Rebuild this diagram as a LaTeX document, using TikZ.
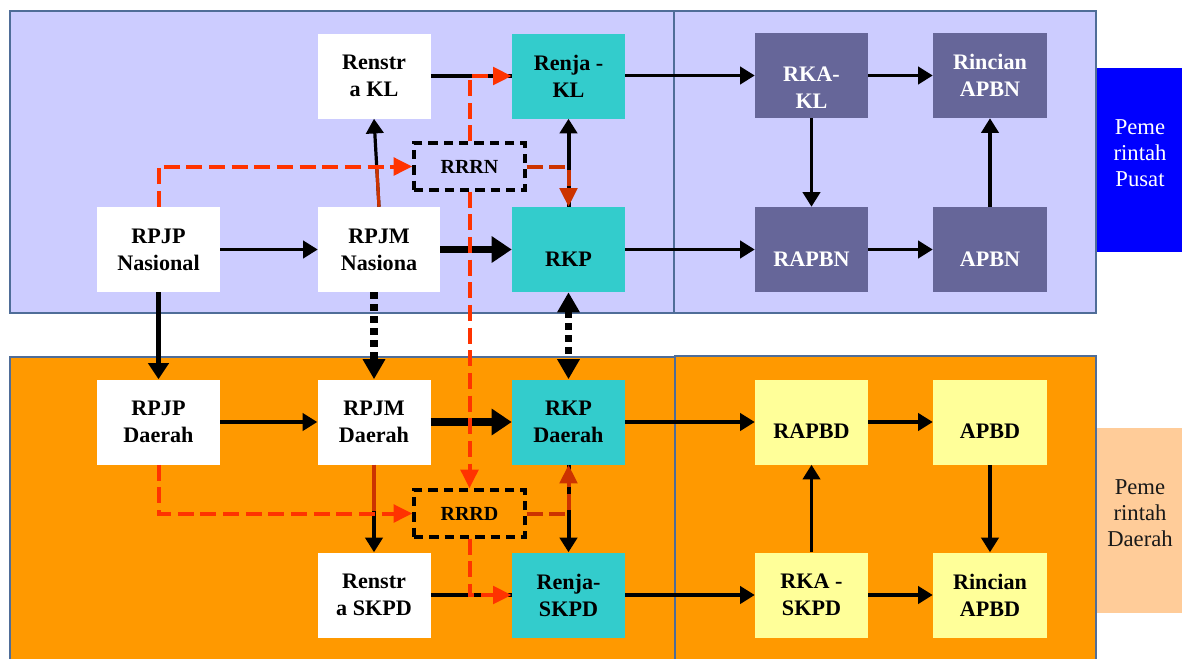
\documentclass[tikz,border=0pt]{standalone}
\usepackage{fontspec}
\setmainfont{Liberation Serif}
\usetikzlibrary{arrows.meta,calc}
\definecolor{lav}{HTML}{CCCCFF}
\definecolor{org}{HTML}{FF9900}
\definecolor{tealb}{HTML}{33CCCC}
\definecolor{purp}{HTML}{666699}
\definecolor{yel}{HTML}{FFFF99}
\definecolor{blueb}{HTML}{0000FF}
\definecolor{peach}{HTML}{FFCC99}
\definecolor{panelc}{HTML}{4F6D98}
\definecolor{redd}{HTML}{FF3300}
\definecolor{dred}{HTML}{CC3300}
\tikzset{
  panel/.style={draw=panelc, line width=1.2pt},
  box/.style={draw=none, minimum width=84.75pt, minimum height=63.75pt, inner sep=0pt, align=center, font=\bfseries\fontsize{16.6}{20.2}\selectfont},
  lbl/.style={align=center, inner sep=0pt, font=\bfseries\fontsize{16.6}{20.2}\selectfont, yshift=-7pt},
  dbox/.style={draw=black, line width=2.4pt, dash pattern=on 7pt off 4.5pt, minimum width=83.25pt, minimum height=35.25pt, inner sep=0pt, font=\bfseries\fontsize{15}{18}\selectfont},
  side/.style={minimum width=63.75pt, inner sep=0pt},
  sidetxt/.style={align=center, inner sep=0pt, font=\fontsize{17}{19.5}\selectfont},
  arr/.style={line width=2.4pt, -{Triangle[length=11pt,width=13pt]}},
  plain/.style={line width=2.4pt},
  vthick/.style={line width=3.6pt, -{Triangle[length=12pt,width=15pt]}},
  tharr/.style={line width=5.5pt, -{Triangle[length=15pt,width=19pt]}},
  dotarr/.style={line width=5.5pt, dash pattern=on 5pt off 4pt, -{Triangle[length=15pt,width=16pt]}},
  dotarrb/.style={line width=5.5pt, dash pattern=on 5pt off 4pt, {Triangle[length=15pt,width=16pt]}-{Triangle[length=15pt,width=16pt]}},
  reddash/.style={draw=redd, line width=3pt, dash pattern=on 12pt off 5pt, -{Triangle[length=14pt,width=13pt]}},
  darkdash/.style={draw=dred, line width=3pt, dash pattern=on 12pt off 5pt, -{Triangle[length=14pt,width=13pt]}},
}
\begin{document}
\begin{tikzpicture}[x=0.75pt,y=-0.75pt]
\useasboundingbox (0,0) rectangle (1182,658);
\clip (0,0) rectangle (1182,658);
% panels
\path[panel, fill=lav] (10,11) rectangle (674,313);
\path[panel, fill=lav] (674,11) rectangle (1096,313);
\path[panel, fill=org] (10,357) rectangle (675,680);
\path[panel, fill=org] (675,356) rectangle (1096,680);
% side labels
\node[side, fill=blueb, minimum height=138pt] (pusat) at (1139.5,160) {};
\node[sidetxt, text=white] (pusat-t) at (1140,153.5) {Peme\\rintah\\Pusat};
\node[side, fill=peach, minimum height=138.75pt] (daerah) at (1139.5,520.5) {};
\node[sidetxt, text=black!90] (daerah-t) at (1140,513.5) {Peme\\rintah\\Daerah};
% top nodes
\node[box, fill=white] (renstrakl) at (374,76) {Renstr\\a KL};
\node[box, fill=white, minimum width=92.25pt] (rpjpn) at (158.5,249.5) {RPJP\\Nasional};
\node[box, fill=white, minimum width=91.5pt] (rpjmn) at (379,249.5) {RPJM\\Nasiona};
\node[box, fill=tealb] (renjakl) at (568.5,76) {Renja -\\KL};
\node[box, fill=tealb, label={[name=rkp-t, lbl]center:RKP}] (rkp) at (568.5,249.5) {};
\node[dbox] (rrrn) at (469.5,166.5) {RRRN};
\node[box, fill=purp, label={[name=rkakl-t, lbl, text=white, yshift=-2pt]center:{RKA-\\KL}}] (rkakl) at (811.5,75.5) {};
\node[box, fill=purp, text=white, minimum width=85.5pt] (rincianapbn) at (990,75.5) {Rincian\\APBN};
\node[box, fill=purp, label={[name=rapbn-t, lbl, text=white]center:RAPBN}] (rapbn) at (811.5,249.5) {};
\node[box, fill=purp, minimum width=85.5pt, label={[name=apbn-t, lbl, text=white]center:APBN}] (apbn) at (990,249.5) {};
% bottom nodes
\node[box, fill=white, minimum width=92.25pt] (rpjpd) at (158.5,422) {RPJP\\Daerah};
\node[box, fill=white] (rpjmd) at (374,422) {RPJM\\Daerah};
\node[box, fill=tealb] (rkpd) at (568.5,422) {RKP\\Daerah};
\node[dbox] (rrrd) at (469.5,513.5) {RRRD};
\node[box, fill=white] (renstraskpd) at (374,595) {Renstr\\a SKPD};
\node[box, fill=tealb] (renjaskpd) at (568.5,595) {Renja-\\SKPD};
\node[box, fill=yel, label={[name=rapbd-t, lbl]center:RAPBD}] (rapbd) at (811.5,422) {};
\node[box, fill=yel, minimum width=85.5pt, label={[name=apbd-t, lbl]center:APBD}] (apbd) at (990,422) {};
\node[box, fill=yel] (rkaskpd) at (811.5,595) {RKA -\\SKPD};
\node[box, fill=yel, minimum width=85.5pt] (rincianapbd) at (990,595) {Rincian\\APBD};
% black connectors top
\draw[arr] (rpjpn.east) -- (rpjmn.west);
\draw[tharr] (rpjmn.east) -- (rkp.west);
\draw[arr] (rkp.east) -- (rapbn.west);
\draw[arr] (rapbn.east) -- (apbn.west);
\draw[arr] (apbn.north) -- (rincianapbn.south);
\draw[arr] (rkakl.south) -- (rapbn.north);
\draw[arr] (rkakl.east) -- (rincianapbn.west);
\draw[arr] (renjakl.east |- rkakl.west) -- (rkakl.west);
\draw[plain] (renstrakl.east) -- (renjakl.west);
\draw[arr] (rpjmn.north) -- (renstrakl.south);
\draw[arr, line width=3pt] (rkp.north) -- (renjakl.south);
% between panels
\draw[vthick] (rpjpn.south) -- (rpjpd.north);
\draw[dotarr] (rpjmd.north |- rpjmn.south) -- (rpjmd.north);
\draw[dotarrb] (rkp.south) -- (rkpd.north);
% black connectors bottom
\draw[arr] (rpjpd.east) -- (rpjmd.west);
\draw[tharr] (rpjmd.east) -- (rkpd.west);
\draw[arr] (rkpd.east) -- (rapbd.west);
\draw[arr] (rapbd.east) -- (apbd.west);
\draw[arr] (apbd.south) -- (rincianapbd.north);
\draw[arr] (rkaskpd.north) -- (rapbd.south);
\draw[arr] (rkaskpd.east) -- (rincianapbd.west);
\draw[arr] (renjaskpd.east) -- (rkaskpd.west);
\draw[plain] (renstraskpd.east) -- (renjaskpd.west);
\draw[arr] (rpjmd.south) -- (renstraskpd.north);
\draw[arr, line width=3pt] (rkpd.south) -- (renjaskpd.north);
% dark red overlays on vertical lines
\draw[dred, line width=2.4pt] (rpjmn.north) -- ($(rpjmn.north)!0.47!(renstrakl.south)$);
\draw[dred, line width=2.4pt] (rpjmd.south) -- ($(rpjmd.south)!0.53!(renstraskpd.north)$);
% red dashed connectors
\draw[reddash] (rpjpn.north) |- (rrrn.west);
\draw[reddash] (rrrn.north) |- (renjakl.west);
\draw[reddash] (rrrn.south) -- (rrrd.north);
\draw[reddash] (rpjpd.south) |- (rrrd.west);
\draw[reddash] (rrrd.south) |- (renjaskpd.west);
\draw[darkdash] (rrrn.east) -| (rkp.north);
\draw[darkdash] (rrrd.east) -| (rkpd.south);
\end{tikzpicture}
\end{document}
